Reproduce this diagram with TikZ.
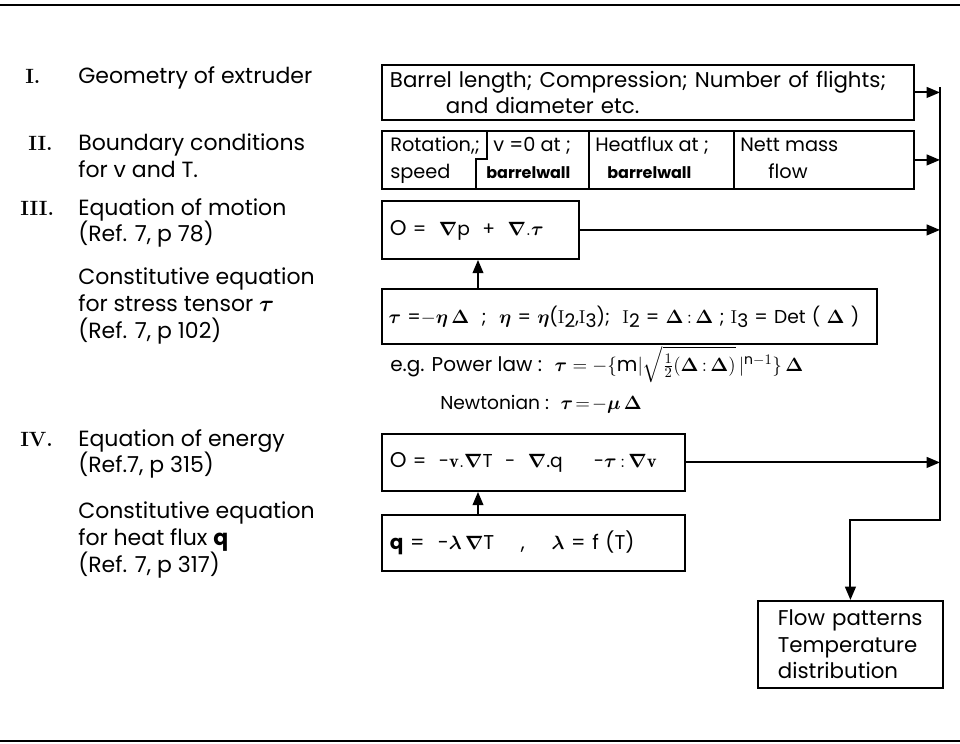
\documentclass[tikz,border=0pt]{standalone}
\usepackage{amsmath,amssymb,bm}
\usepackage{fontspec}
\setsansfont{Poppins}
\renewcommand\familydefault{\sfdefault}
\usetikzlibrary{arrows.meta}
\begin{document}
\begin{tikzpicture}[x=0.75pt,y=-0.75pt,
  every node/.style={inner sep=0pt},
  txt/.style={anchor=base west, font=\fontsize{16.5}{19.5}\selectfont},
  cell/.style={anchor=base west, font=\fontsize{14.5}{19.5}\selectfont},
  num/.style={anchor=base west, font=\rmfamily\bfseries\fontsize{15.5}{17}\selectfont},
  bw/.style={anchor=base west, font=\bfseries\fontsize{12}{14}\selectfont},
  box/.style={draw, line width=1.4pt, inner xsep=6pt, align=left, anchor=north west, font=\fontsize{16}{19.5}\selectfont},
  line/.style={line width=1.4pt},
  conn/.style={line width=1.5pt, -{Triangle[length=10pt,width=8pt]}},
  rule/.style={line width=1.6pt}]
\useasboundingbox (0,0) rectangle (960,743);
\draw[rule] (0,5) -- (960,5);
\draw[rule] (0,741) -- (960,741);

% left column
\node[num] (n1) at (25,83) {I.};
\node[txt] (l1) at (78,83) {Geometry of extruder};
\node[num] (n2) at (28,150) {II.};
\node[txt] (l2a) at (78,150) {Boundary conditions};
\node[txt] (l2b) at (78,177) {for v and T.};
\node[num] (n3) at (20,215) {III.};
\node[txt] (l3a) at (78,215) {Equation of motion};
\node[txt] (l3b) at (78,241) {(Ref. 7, p 78)};
\node[txt] (l3c) at (78,284) {Constitutive equation};
\node[txt] (l3d) at (78,311) {for stress tensor $\bm\tau$};
\node[txt] (l3e) at (78,338) {(Ref. 7, p 102)};
\node[num] (n4) at (20,446) {IV.};
\node[txt] (l4a) at (78,446) {Equation of energy};
\node[txt] (l4b) at (78,472) {(Ref.7, p 315)};
\node[txt] (l4c) at (78,518) {Constitutive equation};
\node[txt] (l4d) at (78,545) {for heat flux \textbf{q}};
\node[txt] (l4e) at (78,572) {(Ref. 7, p 317)};

% boxes
\node[box, text width=387pt, minimum height=41.25pt] (b1) at (381,64)
  {Barrel length; Compression; Number of flights;\\\hspace*{42pt}and diameter etc.};
\node[draw, line width=1.4pt, anchor=north west, minimum width=399pt, minimum height=43.5pt] (b2) at (381,130) {};
\draw[line] (487,130) -- (487,159) -- (476,159) -- (476,188);
\draw[line] (589,130) -- (589,188);
\draw[line] (734,130) -- (734,188);
\node[cell] (c1a) at (390,151) {Rotation,;};
\node[cell] (c1b) at (390,178) {speed};
\node[cell] (c2a) at (493,151) {v =0 at ;};
\node[bw] (c2b) at (486,178) {barrelwall};
\node[cell] (c3a) at (595,151) {Heatflux at ;};
\node[bw] (c3b) at (607,178) {barrelwall};
\node[cell] (c4a) at (740,151) {Nett mass};
\node[cell] (c4b) at (768,178) {flow};

\node[box, text width=135.75pt, minimum height=43.5pt, font=\fontsize{14}{17}\selectfont] (b3) at (381,200)
  {{\fontsize{16}{17}\selectfont O} = \ $\bm\nabla$p \ + \ $\bm\nabla.\bm\tau$};
\node[box, text width=361.25pt, minimum height=41.25pt, inner xsep=5pt, font=\fontsize{14}{17}\selectfont] (cst) at (381,288)
  {\mbox{$\bm\tau$ =$-\bm\eta\,\bm\Delta$ \ ; \ $\bm\eta$ = $\bm\eta$(\textrm{I}\raisebox{-3pt}{2},\textrm{I}\raisebox{-3pt}{3}); \ \textrm{I}\raisebox{-3pt}{2} = $\bm\Delta\,\mathbf{:}\,\bm\Delta$ ; \textrm{I}\raisebox{-3pt}{3} = Det ( $\bm\Delta$ )}};
\node[anchor=base west, font=\fontsize{15}{17}\selectfont] (pl) at (390,371)
  {e.g. Power law : \ $\bm\tau = -\{\text{m}|\sqrt{\tfrac12(\bm\Delta\,\mathbf{:}\,\bm\Delta)}\,|^{\text{n}-1}\}\,\bm\Delta$};
\node[anchor=base west, font=\fontsize{14}{17}\selectfont] (nw) at (440,409) {Newtonian : \ $\bm\tau\!=\!-\bm\mu\,\bm\Delta$};

\node[box, text width=215.25pt, minimum height=42.75pt, font=\fontsize{14}{17}\selectfont] (b4) at (381,433)
  {\mbox{{\fontsize{16}{17}\selectfont O} = \ -$\mathbf{v}.\bm\nabla$T \ - \ $\bm\nabla$.q \quad\ -$\bm\tau\,\mathbf{:}\,\bm\nabla\mathbf{v}$}};
\node[box, text width=215.25pt, minimum height=42pt, font=\fontsize{15}{17}\selectfont] (qb) at (381,514)
  {\textbf{q} = \ -$\bm\lambda\,\bm\nabla$T \quad , \quad $\bm\lambda$ = f (T)};

\node[box, text width=114.75pt, minimum height=65.25pt, inner xsep=12pt, font=\fontsize{16}{20}\selectfont] (flow) at (757,600)
  {\hspace*{3pt}Flow patterns\\\hspace*{3pt}Temperature\\\hspace*{3pt}distribution};

% connectors
\coordinate (busTop) at (940,87);
\coordinate (busBot) at (940,520);
\draw[conn] (busTop) -- (busBot) -| (flow.north);
\draw[conn] (b1.east) -- (b1.east -| busTop);
\draw[conn] (b2.east) -- (b2.east -| busTop);
\draw[conn] (b3.east) -- (b3.east -| busTop);
\draw[conn] (b4.east) -- (b4.east -| busTop);
\draw[conn] ([xshift=72.75pt]cst.north west) -- ([xshift=72.75pt]b3.south west);
\draw[conn] ([xshift=72.75pt]qb.north west) -- ([xshift=72.75pt]b4.south west);
\end{tikzpicture}
\end{document}
